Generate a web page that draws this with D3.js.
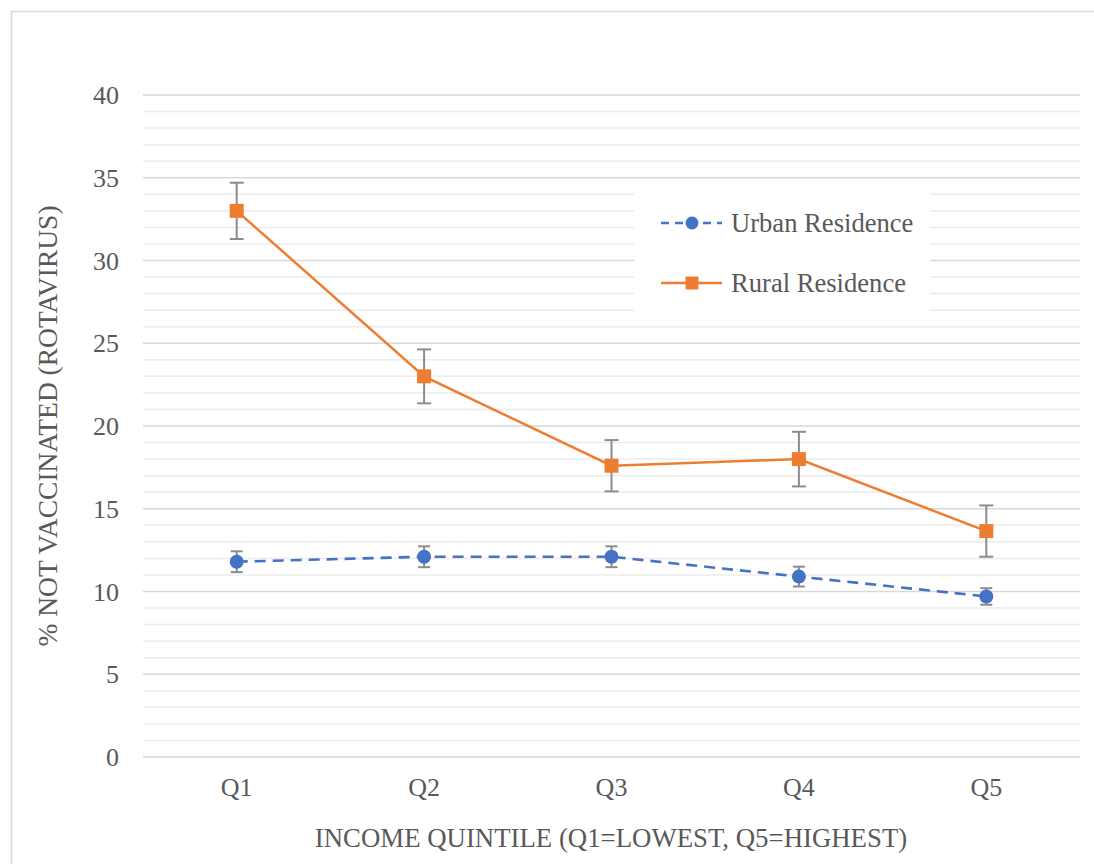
<!DOCTYPE html>
<html><head><meta charset="utf-8">
<script src="https://cdn.jsdelivr.net/npm/d3@7"></script>
<style>body{margin:0;background:#fff}svg{display:block}text{font-family:"Liberation Serif","DejaVu Serif",serif}</style>
</head><body>
<svg id="c" width="1094" height="864"></svg>
<script>
const categories = ["Q1","Q2","Q3","Q4","Q5"];
const urbanValues = [11.8, 12.1, 12.1, 10.9, 9.7];
const urbanErr = [0.63, 0.63, 0.63, 0.6, 0.5];
const ruralValues = [33.0, 23.0, 17.6, 18.0, 13.65];
const ruralErr = [1.7, 1.63, 1.55, 1.65, 1.55];
const yTicks = [0,5,10,15,20,25,30,35,40];
const seriesNames = ["Urban Residence","Rural Residence"];

(function(){
const svg = d3.select("#c");
const textColor = "#595959";
const fs = 26;

svg.append("rect").attr("x",11.5).attr("y",11.5).attr("width",1100).attr("height",900)
  .attr("fill","#fff").attr("stroke","#d9d9d9").attr("stroke-width",1.5);

const pL=143,pR=1080,pT=95,pB=757;
const x = d3.scaleBand().domain(categories).range([pL,pR]);
const y = d3.scaleLinear().domain([0,40]).range([pB,pT]);
const cx = d => x(d)+x.bandwidth()/2;

const g = svg.append("g");
g.selectAll("line.minor").data(d3.range(0,41,1).filter(v=>v%5!==0)).join("line")
  .attr("class","minor")
  .attr("x1",pL).attr("x2",pR).attr("y1",d=>y(d)).attr("y2",d=>y(d))
  .attr("stroke","#ececec").attr("stroke-width",1.5);
g.selectAll("line.major").data(yTicks).join("line")
  .attr("class","major")
  .attr("x1",pL).attr("x2",pR).attr("y1",d=>y(d)).attr("y2",d=>y(d))
  .attr("stroke","#d9d9d9").attr("stroke-width",1.5);

const yAxis = d3.axisLeft(y).tickValues(yTicks).tickSize(0).tickPadding(0);
const ya = svg.append("g").attr("transform",`translate(119,0)`).call(yAxis);
ya.attr("font-family",null);
ya.select(".domain").remove();
ya.selectAll("text").attr("font-size",fs).attr("fill",textColor).attr("dy","0.33em");

const xAxis = d3.axisBottom(x).tickSize(0).tickPadding(0);
const xa = svg.append("g").call(xAxis);
xa.attr("font-family",null);
xa.select(".domain").remove();
xa.selectAll("text").attr("font-size",fs).attr("fill",textColor).attr("y",796).attr("dy",null);

svg.append("text").attr("x",611).attr("y",847).attr("text-anchor","middle")
  .attr("font-size",26.8).attr("fill",textColor)
  .text("INCOME QUINTILE (Q1=LOWEST, Q5=HIGHEST)");
svg.append("text").attr("transform",`translate(57,${(pT+pB)/2}) rotate(-90)`).attr("text-anchor","middle")
  .attr("font-size",27.5).attr("fill",textColor)
  .text("% NOT VACCINATED (ROTAVIRUS)");

const orange="#ED7D31", blue="#4472C4", errColor="#8c8c8c";
const line = d3.line().x((d,i)=>cx(categories[i])).y(d=>y(d));

function errorBars(vals, errs, cap){
  const eb = svg.append("g");
  vals.forEach((v,i)=>{
    const xx = cx(categories[i]);
    eb.append("line").attr("x1",xx).attr("x2",xx).attr("y1",y(v+errs[i])).attr("y2",y(v-errs[i]))
      .attr("stroke",errColor).attr("stroke-width",2);
    [v+errs[i], v-errs[i]].forEach(e=>{
      eb.append("line").attr("x1",xx-cap).attr("x2",xx+cap).attr("y1",y(e)).attr("y2",y(e))
        .attr("stroke",errColor).attr("stroke-width",2);
    });
  });
}

svg.append("path").datum(ruralValues).attr("d",line).attr("fill","none").attr("stroke",orange).attr("stroke-width",2.5);
errorBars(ruralValues, ruralErr, 7);
svg.append("g").selectAll("rect").data(ruralValues).join("rect")
  .attr("x",(d,i)=>cx(categories[i])-7).attr("y",d=>y(d)-7).attr("width",14).attr("height",14).attr("fill",orange);

svg.append("path").datum(urbanValues).attr("d",line).attr("fill","none").attr("stroke",blue).attr("stroke-width",2.6)
  .attr("stroke-dasharray","11,7");
errorBars(urbanValues, urbanErr, 6);
svg.append("g").selectAll("circle").data(urbanValues).join("circle")
  .attr("cx",(d,i)=>cx(categories[i])).attr("cy",d=>y(d)).attr("r",7).attr("fill",blue);

const lg = svg.append("g");
lg.append("rect").attr("x",634).attr("y",190).attr("width",296).attr("height",128).attr("fill","#fff");
const ly=[223,283];
lg.append("line").attr("x1",661).attr("x2",722).attr("y1",ly[0]).attr("y2",ly[0]).attr("stroke",blue).attr("stroke-width",2.6).attr("stroke-dasharray","8,6");
lg.append("circle").attr("cx",692).attr("cy",ly[0]).attr("r",6.5).attr("fill",blue);
lg.append("line").attr("x1",661).attr("x2",722).attr("y1",ly[1]).attr("y2",ly[1]).attr("stroke",orange).attr("stroke-width",2.5);
lg.append("rect").attr("x",685.5).attr("y",ly[1]-6.5).attr("width",13).attr("height",13).attr("fill",orange);
const lb=[232,292];
seriesNames.forEach((n,i)=>{
  lg.append("text").attr("x",731).attr("y",lb[i]).attr("font-size",26.6)
    .attr("fill",textColor).text(n);
});
})();
</script>
</body></html>
